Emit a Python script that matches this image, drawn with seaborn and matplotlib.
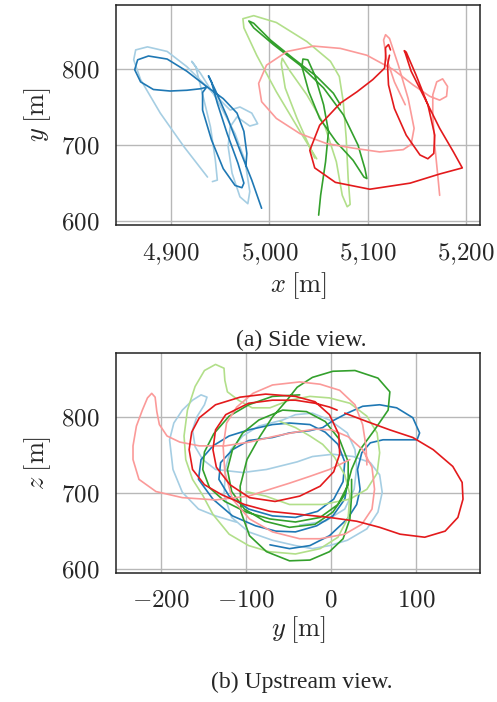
import pandas as pd
import matplotlib
matplotlib.use("Agg")
import matplotlib.pyplot as plt
import seaborn as sns
from matplotlib.ticker import FuncFormatter, MultipleLocator

# trajetorias - vista lateral (x, z)
side_lb_x = [4937, 4913, 4889, 4869, 4862, 4864, 4876, 4896, 4916, 4933, 4950, 4960, 4970, 4982, 4988, 4980, 4967,
             4960, 4958, 4962, 4970, 4978, 4980, 4975, 4965, 4947, 4930, 4921, 4925, 4931, 4940, 4945, 4947, 4942]
side_lb_z = [658, 698, 742, 786, 812, 825, 829, 823, 803, 781, 759, 746, 750, 742, 728, 725, 737,
             724, 698, 663, 632, 623, 639, 680, 715, 759, 794, 810, 803, 772, 724, 680, 654, 652]
side_b_x = [4992, 4982, 4970, 4957, 4945, 4938, 4941, 4947, 4957, 4968, 4974, 4972, 4965, 4953, 4941, 4932, 4932,
            4936, 4930, 4916, 4899, 4882, 4869, 4863, 4866, 4877, 4896, 4916, 4936, 4953, 4967, 4974, 4977, 4976]
side_b_z = [617, 654, 693, 737, 772, 791, 783, 755, 715, 676, 650, 644, 647, 669, 707, 746, 769,
            776, 774, 772, 771, 773, 783, 799, 812, 817, 813, 797, 777, 761, 742, 718, 689, 672]
side_lg_x = [5048, 5031, 5007, 4987, 4974, 4973, 4984, 5007, 5038, 5062, 5071, 5075, 5078, 5080,
             5082, 5079, 5074, 5068, 5056, 5038, 5021, 5013, 5012, 5016, 5028, 5040, 5046]
side_lg_z = [682, 718, 770, 818, 854, 866, 870, 861, 836, 810, 790, 757, 709, 656,
             622, 619, 634, 678, 726, 766, 797, 814, 807, 775, 735, 700, 683]
side_g_x = [5050, 5052, 5057, 5060, 5055, 5046, 5039, 5034, 5033, 5040, 5051, 5068, 5085, 5096, 5099,
            5097, 5090, 5075, 5055, 5031, 5004, 4984, 4979, 4984, 5001, 5024, 5048, 5065, 5072]
side_g_z = [608, 634, 678, 718, 753, 792, 812, 813, 803, 770, 735, 704, 680, 658, 656,
            669, 700, 740, 775, 805, 832, 854, 863, 860, 838, 814, 790, 768, 753]
side_lr_x = [5173, 5171, 5168, 5166, 5166, 5170, 5176, 5181, 5180, 5173, 5163, 5146, 5126, 5099, 5072, 5045, 5018, 4997,
             4989, 4992, 5007, 5031, 5058, 5085, 5112, 5136, 5144, 5147, 5141, 5131, 5122, 5118, 5116, 5119, 5127, 5138]
side_lr_z = [634, 661, 700, 740, 766, 783, 787, 777, 764, 759, 764, 779, 799, 818, 827, 830, 823, 805,
             781, 757, 735, 715, 702, 696, 691, 694, 701, 722, 761, 805, 840, 845, 838, 814, 783, 753]
side_r_x = [5123, 5121, 5118, 5118, 5117, 5105, 5089, 5072, 5051, 5041, 5046, 5067, 5102, 5143, 5173, 5196, 5187,
            5173, 5158, 5144, 5138, 5137, 5139, 5149, 5161, 5168, 5167, 5161, 5153, 5139, 5127, 5121, 5120, 5122]
side_r_z = [825, 832, 828, 814, 801, 786, 770, 755, 726, 693, 670, 651, 642, 650, 662, 670, 691,
            722, 761, 797, 821, 824, 822, 792, 753, 713, 689, 682, 687, 713, 748, 779, 805, 818]

# trajetorias - vista a montante (y, z)
up_lb_y = [-112, -136, -156, -175, -186, -190, -185, -175, -163, -153, -146, -149, -158, -163, -160, -151, -136,
           -104, -76, -40, -22, 2, 26, 46, 57, 60, 55, 42, 19, -2, -22, -42, -69, -97, -117, -126, -124,
           -118, -104, -85, -57, -42, -22, -2, 19, 28, 30, 27, 16, -7, -37]
up_lb_z = [662, 670, 679, 701, 731, 770, 792, 809, 822, 829, 826, 816, 800, 783, 761, 744, 731,
           727, 731, 741, 748, 751, 748, 740, 724, 701, 675, 653, 638, 631, 627, 631, 638, 649, 668, 698, 734,
           757, 775, 788, 796, 803, 805, 796, 779, 757, 734, 705, 679, 663, 658]
up_b_y = [-72, -49, -25, -2, 19, 30, 34, 31, 36, 46, 61, 81, 101, 104, 96, 77, 57, 37, 19, 2,
          -10, -25, -49, -69, -97, -116, -130, -132, -120, -97, -69, -42, -16, 3, 14, 16, 8, -7,
          -25, -49, -69, -97, -120, -139, -153, -156, -139, -116, -89, -65, -42, -17, 2, 16, 20]
up_b_z = [632, 627, 631, 644, 666, 685, 705, 731, 753, 766, 770, 770, 770, 779, 799, 812, 816, 814, 805, 795,
          786, 782, 779, 773, 769, 757, 740, 718, 696, 679, 670, 668, 676, 692, 715, 741, 764, 780,
          790, 792, 790, 783, 775, 762, 744, 718, 692, 670, 657, 650, 649, 657, 670, 692, 718]
up_lg_y = [-100, -77, -49, -10, 22, 42, 54, 57, 54, 42, 22, -2, -25, -49, -72, -93, -109, -122, -125, -126,
           -136, -149, -160, -169, -173, -171, -163, -151, -139, -120, -97, -73, -42, -13, 8, 20, 22, 16, 4,
           -10, -25, -42, -60]
up_lg_z = [702, 696, 685, 685, 692, 705, 726, 753, 779, 801, 818, 825, 827, 822, 812, 812, 822, 833, 848, 864,
           869, 861, 840, 809, 775, 744, 718, 697, 672, 646, 631, 623, 620, 627, 642, 668, 698, 724, 747,
           764, 775, 786, 794]
up_g_y = [-37, -69, -97, -120, -138, -149, -151, -143, -125, -100, -72, -42, -13, 8, 20, 20, 10, -7, -29, -57,
          -85, -104, -116, -122, -117, -102, -78, -49, -19, 2, 16, 24, 34, 51, 67, 69, 55, 28, 2, -22,
          -40, -52, -69, -84, -99, -107, -106, -96, -76, -49, -25, -2, 14, 22, 24, 24]
up_g_z = [829, 827, 816, 801, 778, 754, 731, 707, 689, 675, 666, 662, 668, 685, 711, 741, 770, 794, 807, 809,
          796, 779, 757, 731, 702, 679, 663, 655, 659, 675, 698, 731, 757, 783, 809, 833, 851, 861, 860, 852,
          839, 822, 800, 774, 744, 709, 675, 644, 623, 611, 612, 623, 640, 666, 696, 718]
up_lr_y = [22, -2, -25, -49, -72, -97, -136, -175, -206, -226, -233, -233, -229, -222, -216, -211, -207, -205,
           -202, -193, -178, -155, -125, -96, -65, -42, -19, 1, 20, 37, 48, 51, 48, 36, 16, -13, -37, -69,
           -96, -116, -125, -127, -123, -111, -92, -69, -37, -13, 10, 28, 37, 41, 42]
up_lr_z = [744, 731, 722, 713, 705, 696, 691, 694, 702, 718, 744, 762, 788, 809, 825, 831, 826, 807,
           790, 775, 767, 762, 762, 767, 775, 780, 784, 783, 774, 757, 734, 705, 679, 659, 646, 640, 640, 649,
           666, 692, 727, 761, 792, 813, 831, 842, 846, 843, 835, 816, 790, 761, 737]
up_r_y = [16, 42, 69, 96, 120, 143, 154, 155, 149, 134, 110, 81, 57, 30, -2, -37, -72, -102, -129, -149,
          -163, -167, -164, -155, -136, -107, -77, -42, -19, -2, 9, 10, 3, -13, -37, -66, -96, -119,
          -135, -139, -136, -124, -97, -69, -42, -19, -2, 7]
up_r_z = [805, 794, 783, 773, 757, 735, 714, 692, 668, 650, 642, 646, 655, 663, 668, 672, 676, 685, 698, 711,
          731, 757, 780, 799, 816, 826, 830, 827, 820, 803, 777, 751, 728, 709, 696, 689, 694, 711,
          734, 757, 783, 803, 818, 822, 822, 818, 813, 809]

nomes = ['lb', 'b', 'lg', 'g', 'lr', 'r']
cores = ['#a6cee3', '#1f78b4', '#b2df8a', '#33a02c', '#fb9a99', '#e31a1c']

side = [(side_lb_x, side_lb_z), (side_b_x, side_b_z), (side_lg_x, side_lg_z),
        (side_g_x, side_g_z), (side_lr_x, side_lr_z), (side_r_x, side_r_z)]
up = [(up_lb_y, up_lb_z), (up_b_y, up_b_z), (up_lg_y, up_lg_z),
      (up_g_y, up_g_z), (up_lr_y, up_lr_z), (up_r_y, up_r_z)]


def montar_df(series):
    partes = []
    for nome, (h, v) in zip(nomes, series):
        partes.append(pd.DataFrame({'h': h, 'v': v, 'traj': nome}))
    return pd.concat(partes, ignore_index=True)


df_side = montar_df(side)
df_up = montar_df(up)

sns.set_style("white")
plt.rcParams['mathtext.fontset'] = 'cm'
plt.rcParams['font.family'] = ['Liberation Serif', 'DejaVu Serif']
plt.rcParams['lines.solid_joinstyle'] = 'round'
plt.rcParams['lines.solid_capstyle'] = 'round'

fig = plt.figure(figsize=(4.97, 7.02), dpi=100)
ax1 = fig.add_axes([116 / 497, 1 - 225 / 702, 364 / 497, 220 / 702])
ax2 = fig.add_axes([116 / 497, 1 - 573 / 702, 364 / 497, 220 / 702])


def fmt_milhar(v, pos):
    return "$" + f"{v:,.0f}".replace(",", "{,}") + "$"


def fmt_simples(v, pos):
    return f"${v:.0f}$"


for ax, df, xlim, xlab, fmt in [
    (ax1, df_side, (4844, 5214), r"$x\;[\mathrm{m}]$", fmt_milhar),
    (ax2, df_up, (-253, 175), r"$y\;[\mathrm{m}]$", fmt_simples),
]:
    sns.lineplot(data=df, x='h', y='v', hue='traj', hue_order=nomes, palette=cores,
                 sort=False, estimator=None, units='traj', legend=False, lw=1.2, ax=ax)
    ax.set_xlim(*xlim)
    ax.set_ylim(595, 884)
    ax.xaxis.set_major_locator(MultipleLocator(100))
    ax.yaxis.set_major_locator(MultipleLocator(100))
    ax.xaxis.set_major_formatter(FuncFormatter(fmt))
    ax.yaxis.set_major_formatter(FuncFormatter(fmt_simples))
    ax.grid(True, color='#b8b8b8', lw=1.0)
    ax.set_axisbelow(True)
    for s in ax.spines.values():
        s.set_color('#222222')
        s.set_linewidth(1.1)
    ax.tick_params(direction='out', length=8, width=1.0, color='#222222', labelsize=18, pad=4)
    ax.set_xlabel(xlab, fontsize=19, labelpad=2)

ax1.set_ylabel(r"$y\;[\mathrm{m}]$", fontsize=19, labelpad=6)
ax2.set_ylabel(r"$z\;[\mathrm{m}]$", fontsize=19, labelpad=6)

fig.text(301 / 497, 1 - 340 / 702, "(a) Side view.", ha='center', va='center', fontsize=17)
fig.text(302 / 497, 1 - 682 / 702, "(b) Upstream view.", ha='center', va='center', fontsize=17)

fig.savefig("out.png", dpi=100, facecolor='white')
